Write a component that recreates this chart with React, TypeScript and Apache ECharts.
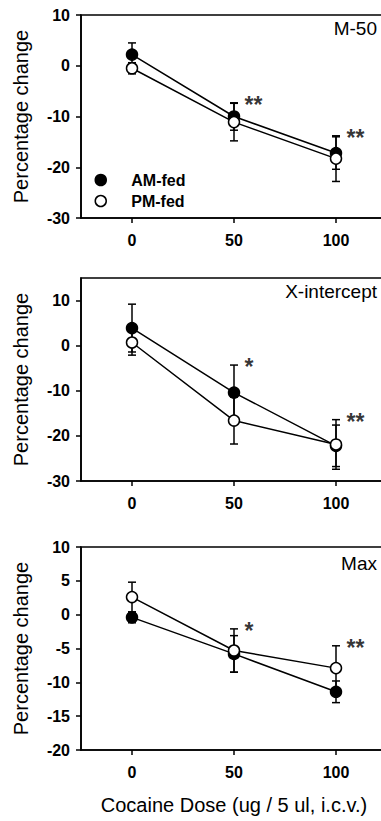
import React, { useEffect, useRef } from "react";
import * as echarts from "echarts";

// ---- Data ----
const doses = [0, 50, 100];
const doseTicks = [0, 50, 100];

const m50Am = [2.2, -10.0, -17.2];
const m50AmErr = [2.3, 2.7, 3.2];
const m50Pm = [-0.5, -11.1, -18.3];
const m50PmErr = [1.1, 3.7, 4.5];
const m50Stars = ["", "**", "**"];
const m50Ticks = [-30, -20, -10, 0, 10];

const xintAm = [3.9, -10.4, -22.2];
const xintAmErr = [5.3, 6.1, 4.6];
const xintPm = [0.7, -16.6, -21.9];
const xintPmErr = [2.8, 5.2, 5.5];
const xintStars = ["", "*", "**"];
const xintTicks = [-30, -20, -10, 0, 10];

const maxAm = [-0.4, -5.8, -11.4];
const maxAmErr = [0.8, 2.7, 1.6];
const maxPm = [2.6, -5.3, -7.9];
const maxPmErr = [2.2, 3.2, 3.3];
const maxStars = ["", "*", "**"];
const maxTicks = [-20, -15, -10, -5, 0, 5, 10];

const panelNames = ["M-50", "X-intercept", "Max"];
const seriesNames = ["AM-fed", "PM-fed"];
const xAxisTitle = "Cocaine Dose (ug / 5 ul, i.c.v.)";
const yAxisTitle = "Percentage change";

const FONT = "'Liberation Sans', Arial, Helvetica, sans-serif";

export default function App() {
  const ref = useRef<HTMLDivElement>(null);

  useEffect(() => {
    if (!ref.current) return;
    const chart = echarts.init(ref.current, null, { renderer: "svg" });

    const panels = [
      { am: m50Am, amE: m50AmErr, pm: m50Pm, pmE: m50PmErr, stars: m50Stars, ticks: m50Ticks, min: -30, max: 10, top: 15, height: 203, labelY: 28 },
      { am: xintAm, amE: xintAmErr, pm: xintPm, pmE: xintPmErr, stars: xintStars, ticks: xintTicks, min: -30, max: 15, top: 278, height: 203, labelY: 291 },
      { am: maxAm, amE: maxAmErr, pm: maxPm, pmE: maxPmErr, stars: maxStars, ticks: maxTicks, min: -20, max: 10, top: 547, height: 203, labelY: 563 },
    ];

    const grids: any[] = [];
    const xAxes: any[] = [];
    const yAxes: any[] = [];
    const series: any[] = [];
    const graphics: any[] = [];

    const errRender = (params: any, api: any) => {
      const x = api.value(0);
      const lo = api.value(1);
      const hi = api.value(2);
      const pLo = api.coord([x, lo]);
      const pHi = api.coord([x, hi]);
      const hw = 4;
      const st = { stroke: "#000", lineWidth: 1.5 };
      return {
        type: "group",
        children: [
          { type: "line", shape: { x1: pLo[0], y1: pLo[1], x2: pHi[0], y2: pHi[1] }, style: st },
          { type: "line", shape: { x1: pLo[0] - hw, y1: pLo[1], x2: pLo[0] + hw, y2: pLo[1] }, style: st },
          { type: "line", shape: { x1: pHi[0] - hw, y1: pHi[1], x2: pHi[0] + hw, y2: pHi[1] }, style: st },
        ],
      };
    };

    panels.forEach((p, i) => {
      grids.push({
        left: 81,
        top: p.top,
        width: 306,
        height: p.height,
        show: true,
        borderColor: "#000",
        borderWidth: 1.6,
        backgroundColor: "transparent",
      });
      xAxes.push({
        type: "value",
        gridIndex: i,
        min: -25,
        max: 125,
        splitLine: { show: false },
        axisLine: { show: true, onZero: false, lineStyle: { color: "#000", width: 1.6 } },
        axisTick: { show: true, inside: false, length: 5, customValues: doseTicks, lineStyle: { color: "#000", width: 1.5 } },
        axisLabel: { show: true, customValues: doseTicks, margin: 14, color: "#000", fontFamily: FONT, fontWeight: "bold", fontSize: 16 },
        name: i === 2 ? xAxisTitle : "",
        nameLocation: "middle",
        nameGap: 45,
        nameTextStyle: { color: "#000", fontFamily: FONT, fontSize: 20 },
      });
      yAxes.push({
        type: "value",
        gridIndex: i,
        min: p.min,
        max: p.max,
        splitLine: { show: false },
        axisLine: { show: true, onZero: false, lineStyle: { color: "#000", width: 1.6 } },
        axisTick: { show: true, inside: false, length: 5, customValues: p.ticks, lineStyle: { color: "#000", width: 1.5 } },
        axisLabel: { show: true, customValues: p.ticks, margin: 11, color: "#000", fontFamily: FONT, fontWeight: "bold", fontSize: 16 },
        name: yAxisTitle,
        nameLocation: "middle",
        nameGap: 50,
        nameTextStyle: { color: "#000", fontFamily: FONT, fontSize: 20 },
      });

      const amErrData = doses.map((d, k) => [d, p.am[k] - p.amE[k], p.am[k] + p.amE[k]]);
      const pmErrData = doses.map((d, k) => [d, p.pm[k] - p.pmE[k], p.pm[k] + p.pmE[k]]);
      series.push({
        type: "custom",
        xAxisIndex: i,
        yAxisIndex: i,
        renderItem: errRender,
        encode: { x: 0, y: [1, 2] },
        data: amErrData.concat(pmErrData),
        z: 1,
        silent: true,
      });
      series.push({
        type: "line",
        name: seriesNames[0],
        xAxisIndex: i,
        yAxisIndex: i,
        data: doses.map((d, k) => [d, p.am[k]]),
        symbol: "circle",
        symbolSize: 11,
        lineStyle: { color: "#000", width: 1.5 },
        itemStyle: { color: "#000", borderColor: "#000", borderWidth: 1.5 },
        z: 3,
      });
      series.push({
        type: "line",
        name: seriesNames[1],
        xAxisIndex: i,
        yAxisIndex: i,
        data: doses.map((d, k) => [d, p.pm[k]]),
        symbol: "circle",
        symbolSize: 11,
        lineStyle: { color: "#000", width: 1.5 },
        itemStyle: { color: "#fff", borderColor: "#000", borderWidth: 1.5 },
        z: 4,
      });
      const starData: any[] = [];
      doses.forEach((d, k) => {
        if (p.stars[k]) {
          const upper = Math.max(p.am[k] + p.amE[k], p.pm[k] + p.pmE[k]);
          starData.push([d, upper, p.stars[k]]);
        }
      });
      series.push({
        type: "scatter",
        xAxisIndex: i,
        yAxisIndex: i,
        data: starData,
        symbolSize: 1,
        itemStyle: { color: "transparent" },
        silent: true,
        z: 5,
        label: {
          show: true,
          position: "right",
          distance: 10,
          offset: [0, 2],
          formatter: (pp: any) => pp.value[2],
          color: "#000",
          fontFamily: FONT,
          fontWeight: "bold",
          fontSize: 23,
        },
      });

      graphics.push({
        type: "text",
        x: 377,
        y: p.labelY,
        style: {
          text: panelNames[i],
          textAlign: "right",
          textVerticalAlign: "middle",
          fill: "#000",
          font: `19px ${FONT}`,
        },
      });
    });

    chart.setOption({
      animation: false,
      backgroundColor: "#fff",
      grid: grids,
      xAxis: xAxes,
      yAxis: yAxes,
      series,
      graphic: graphics,
      legend: {
        orient: "vertical",
        left: 94.5,
        top: 172,
        padding: 0,
        itemWidth: 11,
        itemHeight: 11,
        itemGap: 5,
        selectedMode: false,
        textStyle: { color: "#000", fontFamily: FONT, fontWeight: "bold", fontSize: 16, padding: [0, 0, 0, 20] },
        data: [
          { name: seriesNames[0], icon: "circle", itemStyle: { color: "#000", borderColor: "#000", borderWidth: 1.5 } },
          { name: seriesNames[1], icon: "circle", itemStyle: { color: "#fff", borderColor: "#000", borderWidth: 1.5 } },
        ],
      },
    });

    return () => chart.dispose();
  }, []);

  return (
    <div style={{ position: "fixed", left: 0, top: 0, width: 381, height: 821, overflow: "hidden", background: "#fff" }}>
      <div ref={ref} style={{ width: 400, height: 821 }} />
    </div>
  );
}
